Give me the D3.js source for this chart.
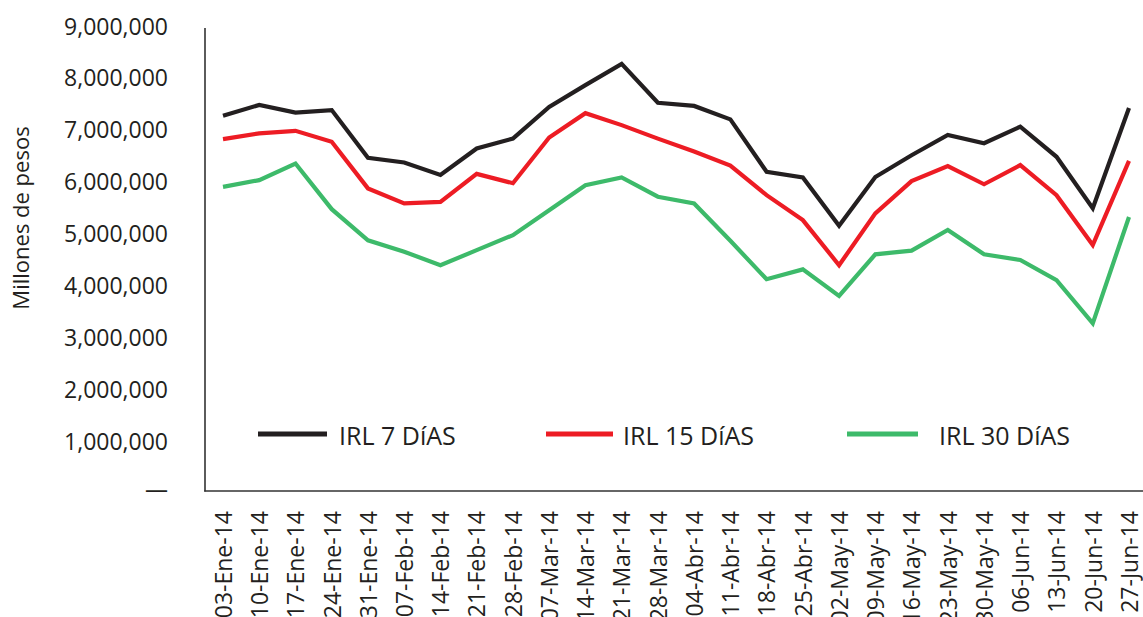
<!DOCTYPE html>
<html>
<head>
<meta charset="utf-8">
<title>IRL</title>
<script src="https://d3js.org/d3.v7.min.js"></script>
<style>
  body { margin: 0; background: #fff; }
  svg { display: block; font-family: "Open Sans", sans-serif; }
  .tick text { fill: #231f20; font-family: "Open Sans", sans-serif; }
</style>
</head>
<body>
<svg id="chart" width="1143" height="617"></svg>
<script>
// fechas (semanal)
var fechas = ["03-Ene-14", "10-Ene-14", "17-Ene-14", "24-Ene-14", "31-Ene-14", "07-Feb-14", "14-Feb-14",
  "21-Feb-14", "28-Feb-14", "07-Mar-14", "14-Mar-14", "21-Mar-14", "28-Mar-14", "04-Abr-14", "11-Abr-14",
  "18-Abr-14", "25-Abr-14", "02-May-14", "09-May-14", "16-May-14", "23-May-14", "30-May-14", "06-Jun-14",
  "13-Jun-14", "20-Jun-14", "27-Jun-14"];

var irl7 = [7270000, 7480000, 7330000, 7380000, 6460000, 6370000, 6130000, 6640000, 6830000, 7440000,
  7860000, 8270000, 7520000, 7460000, 7200000, 6190000, 6080000, 5150000, 6090000, 6510000, 6900000,
  6740000, 7060000, 6480000, 5490000, 7420000];

var irl15 = [6820000, 6930000, 6980000, 6770000, 5870000, 5580000, 5610000, 6150000, 5970000, 6850000,
  7320000, 7090000, 6830000, 6580000, 6310000, 5740000, 5260000, 4390000, 5390000, 6010000, 6300000,
  5950000, 6320000, 5740000, 4780000, 6400000];

var irl30 = [5900000, 6030000, 6350000, 5470000, 4870000, 4650000, 4390000, 4680000, 4970000, 5450000,
  5930000, 6080000, 5710000, 5580000, 4860000, 4120000, 4310000, 3800000, 4600000, 4670000, 5070000,
  4600000, 4490000, 4100000, 3270000, 5320000];

var yTicks = [0, 1000000, 2000000, 3000000, 4000000, 5000000, 6000000, 7000000, 8000000, 9000000];

var series = [
  { name: "IRL 7 DíAS", values: irl7, color: "#231f20" },
  { name: "IRL 15 DíAS", values: irl15, color: "#ed1c24" },
  { name: "IRL 30 DíAS", values: irl30, color: "#3dba6a" }
];

var svg = d3.select("#chart");

var x = d3.scalePoint().domain(fechas).range([223, 1129]);
var y = d3.scaleLinear().domain([0, 9000000]).range([493, 26]);

var fmt = d3.format(",");

// eje Y (etiquetas)
var yAxis = svg.append("g")
  .attr("transform", "translate(168,0)")
  .call(d3.axisLeft(y).tickValues(yTicks).tickSize(0).tickPadding(0)
    .tickFormat(function(d) { return d === 0 ? "—" : fmt(d); }));
yAxis.attr("font-family", null).attr("font-size", null);
yAxis.select(".domain").remove();
yAxis.selectAll("text")
  .style("font-size", "23px")
  .attr("dy", function(d) { return d === 0 ? "0.2em" : "0.35em"; });

// eje X (etiquetas rotadas)
var xAxis = svg.append("g")
  .attr("transform", "translate(0,491)")
  .call(d3.axisBottom(x).tickSize(0).tickPadding(0));
xAxis.attr("font-family", null).attr("font-size", null);
xAxis.select(".domain").remove();
xAxis.selectAll("text")
  .style("font-size", "23px")
  .attr("text-anchor", "end")
  .attr("transform", "rotate(-90)")
  .attr("x", -20)
  .attr("y", 0)
  .attr("dy", "0.36em");

// marco de ejes
svg.append("line")
  .attr("x1", 205).attr("x2", 205).attr("y1", 28).attr("y2", 491.5)
  .attr("stroke", "#333").attr("stroke-width", 1.6);
svg.append("line")
  .attr("x1", 204.2).attr("x2", 1143).attr("y1", 491).attr("y2", 491)
  .attr("stroke", "#333").attr("stroke-width", 1.6);

// titulo eje y
svg.append("text")
  .attr("transform", "translate(29,218) rotate(-90)")
  .attr("text-anchor", "middle")
  .style("font-size", "22px")
  .style("fill", "#231f20")
  .text("Millones de pesos");

// lineas
var line = d3.line()
  .x(function(d, i) { return x(fechas[i]); })
  .y(function(d) { return y(d); });

svg.selectAll(".serie")
  .data(series)
  .enter().append("path")
    .attr("class", "serie")
    .attr("fill", "none")
    .attr("stroke", function(d) { return d.color; })
    .attr("stroke-width", 4.2)
    .attr("stroke-linejoin", "miter")
    .attr("d", function(d) { return line(d.values); });

// leyenda
var legX = [258, 546, 847];
var legLen = [69, 67, 71];
var legTextX = [339, 623, 939];

var leg = svg.selectAll(".leg")
  .data(series)
  .enter().append("g")
    .attr("class", "leg");

leg.append("line")
  .attr("x1", function(d, i) { return legX[i]; })
  .attr("x2", function(d, i) { return legX[i] + legLen[i]; })
  .attr("y1", 434).attr("y2", 434)
  .attr("stroke", function(d) { return d.color; })
  .attr("stroke-width", 5);

leg.append("text")
  .attr("x", function(d, i) { return legTextX[i]; })
  .attr("y", 445)
  .style("font-size", "25px")
  .style("fill", "#231f20")
  .text(function(d) { return d.name; });
</script>
</body>
</html>
